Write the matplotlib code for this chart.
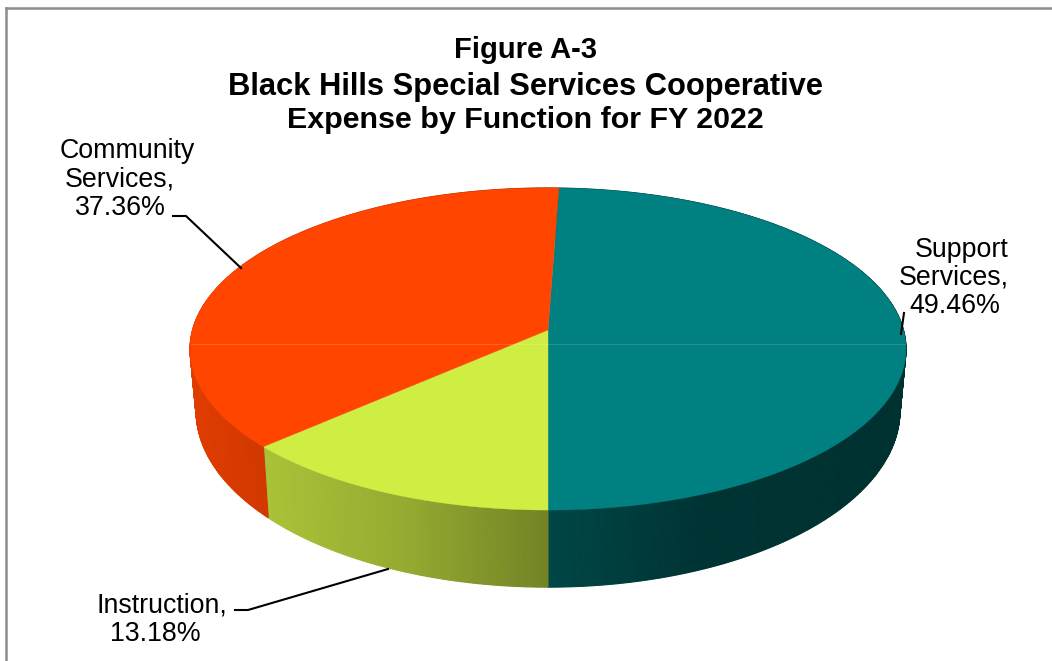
import numpy as np
import matplotlib
matplotlib.use('Agg')
import matplotlib.pyplot as plt

plt.rcParams['font.family'] = ['Liberation Sans', 'DejaVu Sans']

support_label = ['Support', 'Services,', '49.46%']
instruction_label = ['Instruction,', '13.18%']
community_label = ['Community', 'Services,', '37.36%']
values = [49.46, 13.18, 37.36]
colors = ['#008080', '#CFEE44', '#FF4500']
title = ['Figure A-3', 'Black Hills Special Services Cooperative', 'Expense by Function for FY 2022']

# pie geometry, in pixels of the picture
cx, cy = 548, 330
rx, ry = 355.5, 158.8
k = 0.118  # perspective, far side is smaller
start = 180 - values[0] * 3.6


def rim(theta):
    t = np.radians(theta)
    w = 1 + k * np.cos(t)
    return rx * np.sin(t) / w, ry * np.cos(t) / w


def shade(x):
    return np.interp(x, [190, 262, 400, 548, 700, 906], [0.88, 0.82, 0.72, 0.55, 0.40, 0.38])


fig = plt.figure(figsize=(10.52, 6.61), dpi=100)
ax = fig.add_axes([0, 0, 1, 1])
ax.set_xlim(0, 1052)
ax.set_ylim(661, 0)
ax.axis('off')

# the side wall first, in thin strips so it can be shaded
a = start
for v, c in zip(values, colors):
    edges = np.arange(a, a + v * 3.6, 0.5)
    edges = np.append(edges, a + v * 3.6)
    base = np.array(matplotlib.colors.to_rgb(c))
    for t0, t1 in zip(edges[:-1], edges[1:]):
        x0, y0 = rim(t0)
        x1, y1 = rim(t1)
        xs = [cx + x0, cx + x1, cx + 0.983 * x1, cx + 0.983 * x0]
        ys = [cy - y0, cy - y1, cy + 60 - 1.095 * y1, cy + 60 - 1.095 * y0]
        col = base * shade(np.mean(xs))
        ax.fill(xs, ys, color=col, lw=0.8)
    a += v * 3.6

# the top
a = start
for v, c in zip(values, colors):
    th = np.linspace(a, a + v * 3.6, 200)
    x, y = rim(th)
    ax.fill(np.r_[cx, cx + x], np.r_[cy, cy - y], color=c, lw=0.3)
    a += v * 3.6

# faint seam across the pie
ax.plot([191, 905], [344, 344], color='white', lw=0.6, alpha=0.18)

# leader lines
ax.plot([173, 186, 241], [216, 216, 268], color='black', lw=1.5)
ax.plot([901, 904], [334, 313], color='black', lw=1.5)
ax.plot([235, 248, 388], [610, 610, 569], color='black', lw=1.5)

for s, y, fs in zip(title, [49.5, 87, 120], [21, 22.2, 21.9]):
    ax.text(525.5, y, s, ha='center', va='center', fontsize=fs, fontweight='bold')


def label(lines, xs, ys):
    for s, x, y in zip(lines, xs, ys):
        ax.text(x, y, s, ha='center', va='center', fontsize=19.3)


label(community_label, [127.5, 120, 120], [151, 180, 208])
label(support_label, [962, 954, 955], [250, 278, 306])
label(instruction_label, [162, 155], [605, 634])

# chart frame
ax.plot([6, 6], [661, 8], color='#8C8C8C', lw=1.8)
ax.plot([6, 1052], [8, 8], color='#8C8C8C', lw=1.8)

fig.savefig('out.png', dpi=100)
